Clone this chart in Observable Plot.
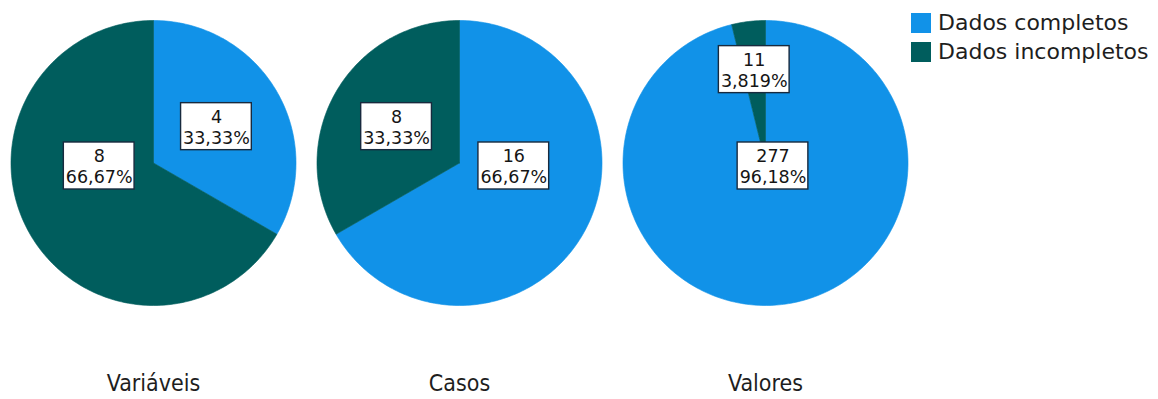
<!DOCTYPE html>
<html><head><meta charset="utf-8">
<script src="https://cdn.jsdelivr.net/npm/d3@7"></script>
<script src="https://cdn.jsdelivr.net/npm/@observablehq/plot@0.6"></script>
<style>
body{margin:0;background:#fff;}
#wrap{position:relative;width:1158px;height:399px;overflow:hidden;}
#legend{position:absolute;left:911px;top:8px;width:247px;}
.lg-swatch{height:29px;padding-bottom:0 !important;}
.lg-swatch svg{margin-right:7px !important;}
.lg-swatch-label{overflow:visible !important;}
</style></head><body><div id="wrap"><div id="chart"></div><div id="legend"></div></div>
<script>
const pies = ["Variáveis", "Casos", "Valores"];
const categories = ["Dados completos", "Dados incompletos"];
const completos = [4, 16, 277];
const incompletos = [8, 8, 11];
const colors = ["#1192e8", "#005d5d"];

const R = 142.5;
const FS = 17.5;
const ctx = document.createElement("canvas").getContext("2d");
ctx.font = `${FS}px "DejaVu Sans"`;
const fmt = v => v.toPrecision(4).replace(".", ",") + "%";

const pts = [], labels = [];
pies.forEach((p, i) => {
  const vals = [completos[i], incompletos[i]];
  const total = d3.sum(vals);
  let a0 = 0;
  vals.forEach((v, j) => {
    const share = v / total;
    const a1 = a0 + share * 360;
    const key = p + "|" + j;
    pts.push({pie: p, cat: categories[j], key, x: 0, y: 0});
    const n = Math.max(2, Math.ceil(a1 - a0));
    for (let k = 0; k <= n; k++) {
      const a = (a0 + (a1 - a0) * k / n) * Math.PI / 180;
      pts.push({pie: p, cat: categories[j], key, x: R * Math.sin(a), y: R * Math.cos(a)});
    }
    pts.push({pie: p, cat: categories[j], key, x: 0, y: 0});
    const mid = (a0 + a1) / 2 * Math.PI / 180;
    let lx, ly;
    if (share >= 0.5) { lx = 0.44 * R * Math.sin(mid); ly = -3; }
    else { const d = share < 0.2 ? 0.66 * R : 0.51 * R; lx = d * Math.sin(mid); ly = d * Math.cos(mid); }
    const lines = [String(v), fmt(share * 100)];
    const w = Math.max(...lines.map(s => ctx.measureText(s).width)) + 4;
    labels.push({pie: p, x: lx, y: ly, w, text: lines.join("\n")});
    a0 = a1;
  });
});

const chart = Plot.plot({
  width: 1158, height: 399,
  marginTop: 0, marginBottom: 74, marginLeft: 0, marginRight: 240,
  fx: {domain: pies, padding: 0, label: null},
  x: {domain: [-153, 153], axis: null},
  y: {domain: [-162.5, 162.5], axis: null},
  color: {domain: categories, range: colors},
  style: {fontFamily: "DejaVu Sans", color: "#1e1e1e", background: "white"},
  marks: [
    Plot.line(pts, {fx: "pie", x: "x", y: "y", z: "key", fill: "cat", stroke: "cat", strokeWidth: 0.6}),
    Plot.rect(labels, {fx: "pie", x1: d => d.x - d.w / 2, x2: d => d.x + d.w / 2, y1: d => d.y - 23.5, y2: d => d.y + 23.5, fill: "white", stroke: "#182a3e", strokeWidth: 1.4}),
    Plot.text(labels, {fx: "pie", x: "x", y: "y", text: "text", fontSize: FS, lineHeight: 1.2, fill: "#151515"}),
    Plot.axisFx({anchor: "bottom", tickSize: 0, tickPadding: 49, label: null, fontSize: 23, fontFamily: "DejaVu Sans Condensed"})
  ]
});
document.getElementById("chart").appendChild(chart);

const leg = Plot.legend({
  color: {domain: categories, range: colors},
  legend: "swatches", columns: 1, swatchSize: 20, className: "lg",
  style: {fontSize: "22px", fontFamily: "DejaVu Sans", color: "#1e1e1e", margin: "0"}
});
document.getElementById("legend").appendChild(leg);
</script></body></html>
